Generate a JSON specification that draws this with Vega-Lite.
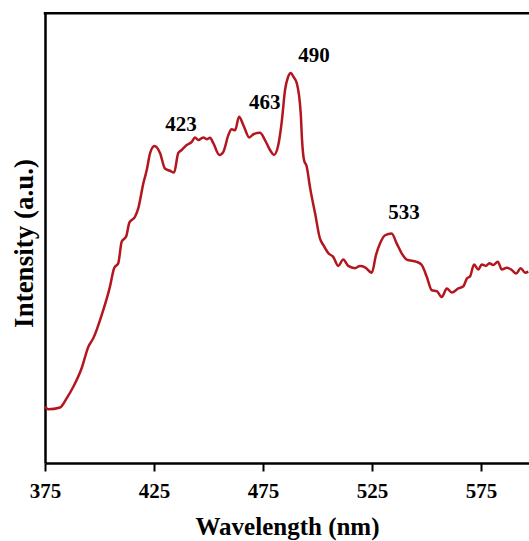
{
  "$schema": "https://vega.github.io/schema/vega-lite/v6.json",
  "width": 484,
  "height": 451,
  "autosize": "none",
  "padding": {"left": 45, "top": 12, "right": 0, "bottom": 78},
  "background": "white",
  "config": {
    "view": {"stroke": null},
    "font": "Liberation Serif"
  },
  "datasets": {
    "spectrum": [
      {"wl": 375.0, "int": 12.5}, {"wl": 376.5, "int": 11.9}, {"wl": 381.9, "int": 12.3}, {"wl": 385.0, "int": 14.4},
      {"wl": 388.0, "int": 16.9}, {"wl": 391.8, "int": 21.0}, {"wl": 394.9, "int": 25.8}, {"wl": 397.2, "int": 27.7},
      {"wl": 401.0, "int": 32.8}, {"wl": 404.8, "int": 39.1}, {"wl": 406.7, "int": 43.2}, {"wl": 408.6, "int": 44.3},
      {"wl": 410.2, "int": 49.1}, {"wl": 412.2, "int": 50.2}, {"wl": 413.7, "int": 53.3}, {"wl": 416.3, "int": 54.6},
      {"wl": 417.8, "int": 56.5}, {"wl": 420.1, "int": 62.0}, {"wl": 421.7, "int": 65.0}, {"wl": 423.2, "int": 68.7},
      {"wl": 425.2, "int": 70.3}, {"wl": 427.8, "int": 68.7}, {"wl": 430.0, "int": 65.3}, {"wl": 432.3, "int": 64.8},
      {"wl": 434.2, "int": 64.4}, {"wl": 436.1, "int": 68.7}, {"wl": 437.7, "int": 69.4}, {"wl": 440.0, "int": 70.5},
      {"wl": 442.3, "int": 71.2}, {"wl": 443.8, "int": 72.2}, {"wl": 445.3, "int": 71.6}, {"wl": 447.6, "int": 72.2},
      {"wl": 449.2, "int": 71.8}, {"wl": 450.7, "int": 72.1}, {"wl": 452.2, "int": 70.9}, {"wl": 455.0, "int": 68.3},
      {"wl": 456.8, "int": 69.0}, {"wl": 459.1, "int": 72.7}, {"wl": 460.6, "int": 74.0}, {"wl": 462.2, "int": 73.8},
      {"wl": 464.0, "int": 76.8}, {"wl": 466.0, "int": 74.9}, {"wl": 468.7, "int": 72.2}, {"wl": 470.6, "int": 72.9},
      {"wl": 473.6, "int": 73.2}, {"wl": 475.9, "int": 71.6}, {"wl": 478.2, "int": 69.4}, {"wl": 480.0, "int": 68.3},
      {"wl": 482.0, "int": 70.5}, {"wl": 483.6, "int": 75.7}, {"wl": 485.1, "int": 82.7}, {"wl": 486.5, "int": 85.6},
      {"wl": 487.7, "int": 86.5}, {"wl": 489.0, "int": 85.6}, {"wl": 490.5, "int": 84.2}, {"wl": 492.3, "int": 77.5},
      {"wl": 492.9, "int": 71.6}, {"wl": 493.8, "int": 67.2}, {"wl": 495.0, "int": 65.8}, {"wl": 496.6, "int": 61.0},
      {"wl": 498.9, "int": 55.3}, {"wl": 501.1, "int": 49.8}, {"wl": 502.7, "int": 48.3}, {"wl": 505.0, "int": 46.5},
      {"wl": 507.2, "int": 45.7}, {"wl": 509.5, "int": 43.7}, {"wl": 511.8, "int": 45.1}, {"wl": 514.1, "int": 43.7},
      {"wl": 517.2, "int": 43.2}, {"wl": 519.5, "int": 43.7}, {"wl": 521.8, "int": 43.4}, {"wl": 524.9, "int": 42.2},
      {"wl": 526.8, "int": 46.1}, {"wl": 528.7, "int": 48.7}, {"wl": 531.0, "int": 50.5}, {"wl": 534.0, "int": 50.9},
      {"wl": 536.3, "int": 48.7}, {"wl": 538.6, "int": 46.5}, {"wl": 540.9, "int": 45.1}, {"wl": 545.5, "int": 44.6},
      {"wl": 547.8, "int": 43.9}, {"wl": 550.1, "int": 41.3}, {"wl": 552.4, "int": 38.3}, {"wl": 554.7, "int": 38.1},
      {"wl": 557.0, "int": 36.8}, {"wl": 559.3, "int": 38.7}, {"wl": 561.6, "int": 37.8}, {"wl": 564.6, "int": 38.7},
      {"wl": 566.9, "int": 39.2}, {"wl": 568.5, "int": 40.9}, {"wl": 570.0, "int": 41.4}, {"wl": 571.8, "int": 44.0},
      {"wl": 573.8, "int": 42.9}, {"wl": 575.3, "int": 44.0}, {"wl": 577.3, "int": 43.7}, {"wl": 578.8, "int": 44.3},
      {"wl": 580.6, "int": 43.9}, {"wl": 582.7, "int": 44.6}, {"wl": 584.5, "int": 42.9}, {"wl": 586.8, "int": 43.3},
      {"wl": 589.1, "int": 42.8}, {"wl": 591.1, "int": 42.0}, {"wl": 593.2, "int": 43.2}, {"wl": 595.2, "int": 42.2},
      {"wl": 596.7, "int": 42.4}
    ],
    "peaks": [
      {"wl": 437.4, "int": 75.0, "label": "423"},
      {"wl": 475.8, "int": 79.9, "label": "463"},
      {"wl": 498.4, "int": 90.3, "label": "490"},
      {"wl": 539.7, "int": 55.4, "label": "533"}
    ],
    "frame": [
      {"wl": 375, "wl2": 597, "int": 99.7}
    ]
  },
  "layer": [
    {
      "data": {"name": "spectrum"},
      "mark": {"type": "line", "color": "#B3161E", "strokeWidth": 2.5, "interpolate": "monotone"},
      "encoding": {
        "x": {
          "field": "wl", "type": "quantitative",
          "scale": {"domain": [375, 597], "nice": false, "zero": false},
          "axis": {
            "title": "Wavelength (nm)",
            "values": [375, 425, 475, 525, 575],
            "grid": false,
            "domainColor": "black", "domainWidth": 2.5,
            "tickColor": "black", "tickWidth": 2, "tickSize": 8,
            "labelFont": "Liberation Serif", "labelFontSize": 21, "labelFontWeight": "bold", "labelColor": "black",
            "labelPadding": 9, "labelFlush": false,
            "titleFont": "Liberation Serif", "titleFontSize": 25, "titleFontWeight": "bold", "titleColor": "black",
            "titlePadding": 13
          }
        },
        "y": {
          "field": "int", "type": "quantitative",
          "scale": {"domain": [0, 100], "nice": false, "zero": false},
          "axis": {
            "title": "Intensity (a.u.)",
            "grid": false, "ticks": false, "labels": false,
            "domainColor": "black", "domainWidth": 2.5,
            "titleFont": "Liberation Serif", "titleFontSize": 27, "titleFontWeight": "bold", "titleColor": "black",
            "titlePadding": 7, "titleY": 231
          }
        }
      }
    },
    {
      "data": {"name": "peaks"},
      "mark": {"type": "text", "font": "Liberation Serif", "fontSize": 21, "fontWeight": "bold", "color": "black", "align": "center", "baseline": "middle"},
      "encoding": {
        "x": {"field": "wl", "type": "quantitative"},
        "y": {"field": "int", "type": "quantitative"},
        "text": {"field": "label"}
      }
    },
    {
      "data": {"name": "frame"},
      "mark": {"type": "rule", "color": "black", "strokeWidth": 2.5, "strokeCap": "square"},
      "encoding": {
        "x": {"field": "wl", "type": "quantitative"},
        "x2": {"field": "wl2"},
        "y": {"field": "int", "type": "quantitative"}
      }
    }
  ]
}
